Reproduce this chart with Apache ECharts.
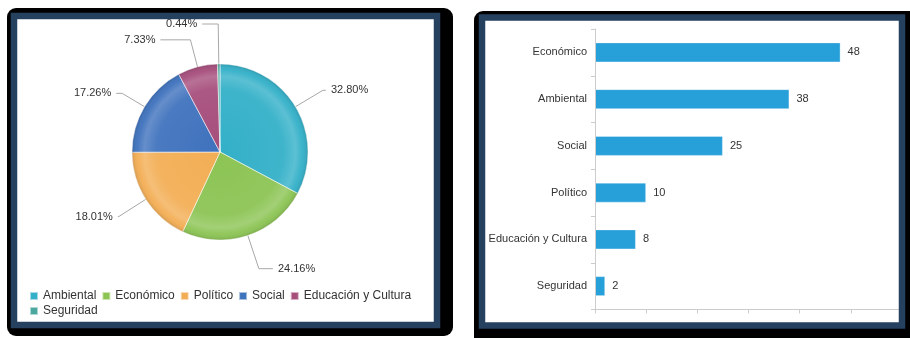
<!DOCTYPE html>
<html>
<head>
<meta charset="utf-8">
<style>
  html, body { margin: 0; padding: 0; background: #ffffff; }
  #chart { width: 910px; height: 338px; }
</style>
<script src="https://cdn.jsdelivr.net/npm/echarts@6/dist/echarts.min.js"></script>
</head>
<body>
<div id="chart"></div>
<script>
// Share of projects by dimension (pie, percent)
const pieCategories = ['Ambiental', 'Económico', 'Político', 'Social', 'Educación y Cultura', 'Seguridad'];
const pieShares = [32.80, 24.16, 18.01, 17.26, 7.33, 0.44];
const pieColors = ['#33b0c8', '#8cc454', '#f3ae55', '#3f72bd', '#a64e7c', '#4aa89e'];

// Number of projects by dimension (horizontal bars, top to bottom)
const barCategories = ['Económico', 'Ambiental', 'Social', 'Político', 'Educación y Cultura', 'Seguridad'];
const barCounts = [48, 38, 25, 10, 8, 2];

const FONT = '"Liberation Sans", Arial, sans-serif';
const TEXT = '#333333';
const NAVY = '#26405f';

// leader line segments [radial length, horizontal length] per slice
const leaderLines = [[32, 3], [35, 14], [32, 1], [26, 6], [28, 30], [40, 16]];

const chart = echarts.init(document.getElementById('chart'), null, { renderer: 'canvas' });

const pieData = pieCategories.map((name, i) => ({
  name: name,
  value: pieShares[i],
  itemStyle: { color: pieColors[i] },
  labelLine: { length: leaderLines[i][0], length2: leaderLines[i][1] }
}));

// panel frames: dark shadow, white card, navy border on top
function panel(x, y, w, h, shadow) {
  return [
    { type: 'rect', z: -20, shape: { x: shadow.x, y: shadow.y, width: shadow.w, height: shadow.h, r: 9 },
      style: { fill: '#000000' } },
    { type: 'rect', z: -10, shape: { x: x, y: y, width: w, height: h },
      style: { fill: '#ffffff' } },
    { type: 'rect', z: 100, shape: { x: x, y: y, width: w, height: h },
      style: { fill: 'none', stroke: NAVY, lineWidth: 6.5 } }
  ];
}

const legendText = { color: TEXT, fontSize: 12, fontFamily: FONT };

const option = {
  animation: false,
  textStyle: { fontFamily: FONT },
  graphic: [].concat(
    panel(14, 16, 423, 309, { x: 7, y: 8, w: 446, h: 328 }),
    panel(482, 17.5, 420, 308, { x: 474, y: 11, w: 450, h: 340 })
  ),
  legend: [
    {
      data: pieCategories.slice(0, 5),
      left: 29, top: 290, padding: 0,
      orient: 'horizontal',
      icon: 'rect', itemWidth: 8, itemHeight: 8, itemGap: 5,
      textStyle: legendText,
      z: 10
    },
    {
      data: pieCategories.slice(5),
      left: 29, top: 305, padding: 0,
      icon: 'rect', itemWidth: 8, itemHeight: 8,
      textStyle: legendText,
      z: 10
    }
  ],
  grid: { left: 595, top: 29, right: 8, bottom: 28.5, containLabel: false },
  xAxis: {
    type: 'value', min: 0, max: 60, interval: 10, z: 5,
    axisLine: { show: true, lineStyle: { color: '#cccccc' } },
    axisTick: { show: true, length: 4, lineStyle: { color: '#cccccc' } },
    axisLabel: { show: false },
    splitLine: { show: false }
  },
  yAxis: {
    type: 'category', data: barCategories, inverse: true, z: 5,
    axisLine: { show: true, lineStyle: { color: '#cccccc' } },
    axisTick: { show: true, length: 4, lineStyle: { color: '#cccccc' } },
    axisLabel: { color: TEXT, fontSize: 11, fontFamily: FONT, margin: 8 }
  },
  series: [
    {
      type: 'pie',
      name: 'Dimensión',
      center: [220, 152],
      radius: 88,
      startAngle: 90,
      clockwise: true,
      z: 2,
      data: pieData,
      itemStyle: { borderColor: 'rgba(255,255,255,0.55)', borderWidth: 1 },
      label: {
        show: true,
        color: TEXT, fontSize: 11, fontFamily: FONT,
        formatter: p => p.value.toFixed(2) + '%'
      },
      labelLine: {
        show: true, smooth: false,
        lineStyle: { color: '#a8a8a8', width: 1 }
      },
      emphasis: { disabled: true }
    },
    {
      // bevel shading laid over the pie
      type: 'pie',
      name: 'sombreado',
      center: [220, 152],
      radius: 88,
      silent: true,
      z: 3,
      label: { show: false },
      labelLine: { show: false },
      data: [{
        value: 1,
        itemStyle: {
          color: {
            type: 'radial', x: 0.5, y: 0.5, r: 0.5,
            colorStops: [
              { offset: 0, color: 'rgba(255,255,255,0)' },
              { offset: 0.72, color: 'rgba(255,255,255,0.06)' },
              { offset: 0.86, color: 'rgba(255,255,255,0.2)' },
              { offset: 0.94, color: 'rgba(255,255,255,0.04)' },
              { offset: 1, color: 'rgba(0,0,0,0.12)' }
            ]
          }
        }
      }],
      emphasis: { disabled: true }
    },
    {
      type: 'bar',
      name: 'Proyectos',
      data: barCounts,
      barWidth: 20,
      itemStyle: { color: '#279fd9', borderColor: 'rgba(255,255,255,0.35)', borderWidth: 1 },
      label: {
        show: true, position: 'right', distance: 7,
        color: TEXT, fontSize: 11, fontFamily: FONT
      },
      emphasis: { disabled: true }
    }
  ]
};

chart.setOption(option);
</script>
</body>
</html>
